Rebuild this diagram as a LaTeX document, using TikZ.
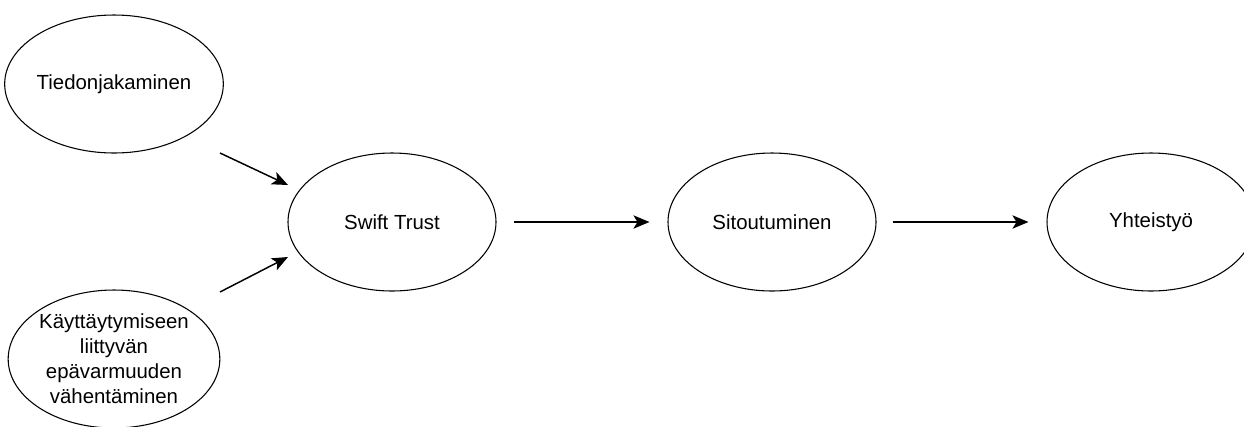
\documentclass[tikz,border=0pt]{standalone}
\usepackage{fontspec}
\setmainfont{Liberation Sans}
\usetikzlibrary{shapes.geometric,arrows.meta}

\begin{document}
\begin{tikzpicture}[x=0.75pt,y=-0.75pt]
  \tikzset{bubble/.style={ellipse,draw,line width=0.8pt,minimum width=156pt,minimum height=103.5pt,inner sep=0pt,align=center,font=\fontsize{15.3}{18.75}\selectfont},
           arr/.style={line width=1.1pt,-{Stealth[length=12pt,width=10pt,inset=3pt]}}}
    \useasboundingbox (0,0) rectangle (1244,426);
    \node [bubble] (tied) at (114,84) {Tiedonjakaminen};
    \node [bubble] (kayt) at (114,359) {Käyttäytymiseen\\liittyvän\\epävarmuuden\\vähentäminen};
    \node [bubble] (swift) at (392,222) {Swift Trust};
    \node [bubble] (sito) at (772,222) {Sitoutuminen};
    \node [bubble] (yht) at (1151,222) {Yhteistyö};
    \draw [arr] ([shift={(106,69)}]tied.center) -- ([shift={(-104,-37)}]swift.center);
    \draw [arr] ([shift={(106,-67)}]kayt.center) -- ([shift={(-104,35)}]swift.center);
    \draw [arr,shorten <=12.75pt,shorten >=13.5pt] (swift) -- (sito);
    \draw [arr,shorten <=12pt,shorten >=13.5pt] (sito) -- (yht);
\end{tikzpicture}
\end{document}
